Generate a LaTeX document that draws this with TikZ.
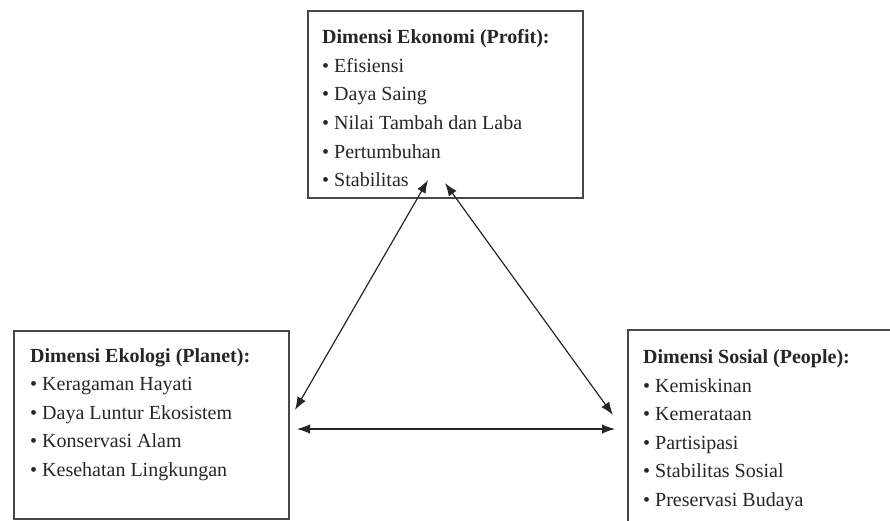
\documentclass[tikz,border=0pt]{standalone}
\usepackage{fontspec}
\setmainfont{Liberation Serif}
\usetikzlibrary{arrows.meta}

\begin{document}
\begin{tikzpicture}[x=1pt, y=-1pt,
    dimbox/.style={draw=black!72, line width=1.6pt, anchor=north west, inner sep=0pt},
    dimtext/.style={anchor=north west, align=left, inner sep=0pt, text=black!85,
      font=\fontsize{20}{28.6}\selectfont},
    linkarrow/.style={line width=1.2pt, black!85, {Latex[length=13pt,width=9.5pt]}-{Latex[length=13pt,width=9.5pt]}}]
  \useasboundingbox (0,0) rectangle (890,521);
  \begin{scope}
    \clip (0,0) rectangle (890,521);
    % the three dimensions
    \node[dimbox, minimum width=275pt, minimum height=187pt] (eko) at (307,10) {};
    \node[dimbox, minimum width=275pt, minimum height=188pt] (ekol) at (13,330) {};
    \node[dimbox, minimum width=290pt, minimum height=205pt] (sos) at (627,329) {};
  \end{scope}
  \node[dimtext] (ekotxt) at ([shift={(15,19.5)}]eko.north west)
    {\textbf{Dimensi Ekonomi (Profit):}\\ • Efisiensi\\ • Daya Saing\\
     • Nilai Tambah dan Laba\\ • Pertumbuhan\\ • Stabilitas};
  \node[dimtext] (ekoltxt) at ([shift={(17,18)}]ekol.north west)
    {\textbf{Dimensi Ekologi (Planet):}\\ • Keragaman Hayati\\ • Daya Luntur Ekosistem\\
     • Konservasi Alam\\ • Kesehatan Lingkungan};
  \node[dimtext] (sostxt) at ([shift={(16,20.5)}]sos.north west)
    {\textbf{Dimensi Sosial (People):}\\ • Kemiskinan\\ • Kemerataan\\
     • Partisipasi\\ • Stabilitas Sosial\\ • Preservasi Budaya};
  % arrow ends
  \coordinate (ekoA) at (428,180);
  \coordinate (ekoB) at (445,183);
  \coordinate (ekolA) at (295,410);
  \coordinate (ekolB) at (297,429);
  \coordinate (sosA) at (613,415);
  \coordinate (sosB) at (615,429);
  \draw[linkarrow] (ekoA) -- (ekolA);
  \draw[linkarrow] (ekoB) -- (sosA);
  \draw[linkarrow] (ekolB) -- (sosB);
\end{tikzpicture}
\end{document}
